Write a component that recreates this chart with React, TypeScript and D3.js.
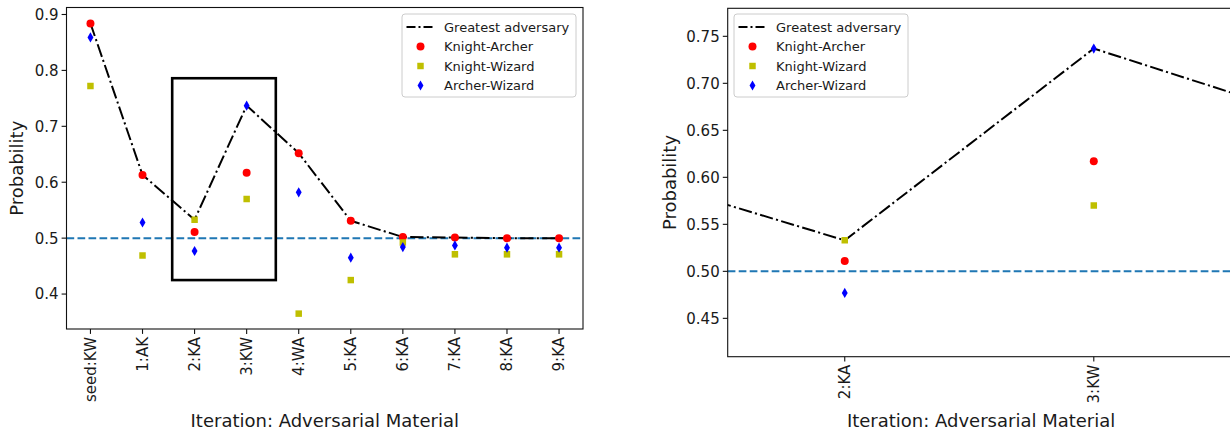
import React from 'react'
import * as d3 from 'd3'

const iterations = ["seed:KW", "1:AK", "2:KA", "3:KW", "4:WA", "5:KA", "6:KA", "7:KA", "8:KA", "9:KA"]
const knightArcher = [0.884, 0.613, 0.511, 0.617, 0.652, 0.531, 0.502, 0.501, 0.500, 0.500]
const knightWizard = [0.772, 0.469, 0.533, 0.570, 0.365, 0.425, 0.492, 0.471, 0.471, 0.471]
const archerWizard = [0.859, 0.528, 0.477, 0.737, 0.582, 0.465, 0.484, 0.487, 0.483, 0.483]
const chance = 0.5
const leftYTicks = [0.4, 0.5, 0.6, 0.7, 0.8, 0.9]
const rightYTicks = [0.45, 0.5, 0.55, 0.6, 0.65, 0.7, 0.75]
// the highlighted region in the left panel (x in category index, y in probability)
const zoomBox = {x0: 1.57, x1: 3.56, y0: 0.425, y1: 0.786}

const greatest = iterations.map((_, i) => Math.max(knightArcher[i], knightWizard[i], archerWizard[i]))

const FONT = "DejaVu Sans"
const TXT = "#1a1a1a"

const series = [
  {name: "Knight-Archer", values: knightArcher, color: "red", symbol: d3.symbolCircle, size: 50},
  {name: "Knight-Wizard", values: knightWizard, color: "#bfbf00", symbol: d3.symbolSquare, size: 42},
  {name: "Archer-Wizard", values: archerWizard, color: "blue", symbol: d3.symbolDiamond, size: 30},
]

const Panel = ({id, layout, xDomain, yDomain, yTicks, yFmt, legendX, showBox}) => {
  const {left, right, top, bottom, ylabelX} = layout
  const x = d3.scaleLinear().domain(xDomain).range([left, right])
  const y = d3.scaleLinear().domain(yDomain).range([bottom, top])
  const line = d3.line().x((d, i) => x(i)).y(d => y(d))
  const xTicks = iterations.map((c, i) => i).filter(i => i >= xDomain[0] && i <= xDomain[1])
  const legendRows = [13, 32.5, 52, 71.5]
  const legendTop = 14

  return (
    <g>
      <defs>
        <clipPath id={id}>
          <rect x={left} y={top} width={right - left} height={bottom - top} />
        </clipPath>
      </defs>
      <g clipPath={`url(#${id})`}>
        <line x1={left} x2={right} y1={y(chance)} y2={y(chance)}
          stroke="#1f77b4" strokeWidth={2} strokeDasharray="7.7,3.3" />
        <path d={line(greatest)} fill="none" stroke="black" strokeWidth={2}
          strokeDasharray="13.3,3.3,2.1,3.3" />
        {series.map(s => (
          <g key={s.name}>
            {s.values.map((v, i) => (
              <path key={i} d={d3.symbol(s.symbol, s.size)()}
                transform={`translate(${x(i)},${y(v)})`} fill={s.color} />
            ))}
          </g>
        ))}
        {showBox && (
          <rect x={x(zoomBox.x0)} y={y(zoomBox.y1)} width={x(zoomBox.x1) - x(zoomBox.x0)}
            height={y(zoomBox.y0) - y(zoomBox.y1)} fill="none" stroke="black" strokeWidth={2.6} />
        )}
      </g>

      {/* spines */}
      <rect x={left} y={top} width={right - left} height={bottom - top} fill="none" stroke="#111" strokeWidth={1.1} />

      {/* y axis */}
      {yTicks.map(t => (
        <g key={t}>
          <line x1={left - 4.9} x2={left} y1={y(t)} y2={y(t)} stroke="#111" strokeWidth={1.1} />
          <text x={left - 8} y={y(t)} dy="0.36em" textAnchor="end" fontSize={15}
            fontFamily={FONT} fill={TXT}>{d3.format(yFmt)(t)}</text>
        </g>
      ))}
      <text transform={`translate(${ylabelX},${(top + bottom) / 2}) rotate(-90)`} textAnchor="middle"
        fontSize={18} fontFamily={FONT} fill={TXT} dy="0.36em">Probability</text>

      {/* x axis */}
      {xTicks.map(i => (
        <g key={i}>
          <line x1={x(i)} x2={x(i)} y1={bottom} y2={bottom + 4.9} stroke="#111" strokeWidth={1.1} />
          <text transform={`translate(${x(i)},${bottom + 8}) rotate(-90)`} dy="0.36em" textAnchor="end"
            fontSize={15} fontFamily={FONT} fill={TXT}>{iterations[i]}</text>
        </g>
      ))}
      <text x={(left + right) / 2} y={427} textAnchor="middle" fontSize={18}
        fontFamily={FONT} fill={TXT}>Iteration: Adversarial Material</text>

      {/* legend */}
      <g transform={`translate(${legendX},${legendTop})`}>
        <rect x={0} y={0} width={174} height={83} rx={3} fill="white" fillOpacity={0.8}
          stroke="#cccccc" strokeWidth={1} />
        <line x1={4.5} x2={31} y1={legendRows[0]} y2={legendRows[0]} stroke="black" strokeWidth={2}
          strokeDasharray="9,3,2,3" />
        <text x={42} y={legendRows[0]} dy="0.36em" fontSize={13} fontFamily={FONT} fill={TXT}>Greatest adversary</text>
        {series.map((s, k) => (
          <g key={s.name}>
            <path d={d3.symbol(s.symbol, s.size)()} transform={`translate(18.5,${legendRows[k + 1]})`} fill={s.color} />
            <text x={42} y={legendRows[k + 1]} dy="0.36em" fontSize={13} fontFamily={FONT} fill={TXT}>{s.name}</text>
          </g>
        ))}
      </g>
    </g>
  )
}

export default function App() {
  return (
    <svg width={1230} height={432} style={{position: "absolute", left: 0, top: 0, background: "white"}}>
      <Panel id="clipL"
        layout={{left: 66.5, right: 583, top: 7.5, bottom: 329, ylabelX: 17}}
        xDomain={[-0.46, 9.46]} yDomain={[0.3375, 0.9125]}
        yTicks={leftYTicks} yFmt=".1f" legendX={402} showBox={true} />
      <Panel id="clipR"
        layout={{left: 727.7, right: 1234.5, top: 8.3, bottom: 356.7, ylabelX: 670}}
        xDomain={[1.53, 3.565]} yDomain={[0.4092, 0.7798]}
        yTicks={rightYTicks} yFmt=".2f" legendX={734} showBox={false} />
    </svg>
  )
}
